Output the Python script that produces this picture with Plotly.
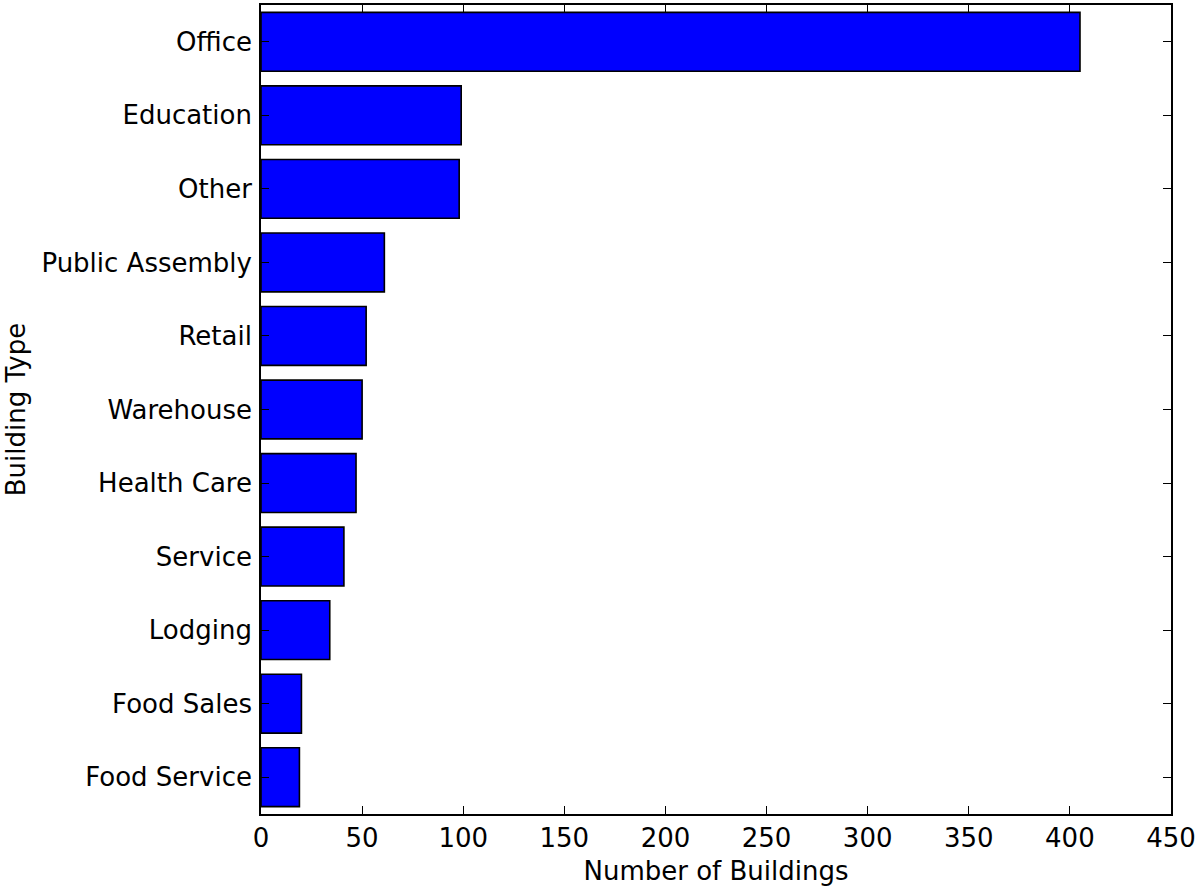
import plotly.graph_objects as go

# Building counts by type, listed from top to bottom
building_types = [
    "Office", "Education", "Other", "Public Assembly", "Retail", "Warehouse",
    "Health Care", "Service", "Lodging", "Food Sales", "Food Service",
]
building_counts = [405, 99, 98, 61, 52, 50, 47, 41, 34, 20, 19]

x_ticks = [0, 50, 100, 150, 200, 250, 300, 350, 400, 450]

FONT = dict(family="DejaVu Sans", size=26, color="black")

fig = go.Figure(
    go.Bar(
        x=building_counts,
        y=building_types,
        orientation="h",
        width=0.8,
        marker=dict(color="#0000FF", line=dict(color="black", width=1.6)),
    )
)

axis_common = dict(
    showgrid=False,
    zeroline=False,
    showline=True,
    linecolor="black",
    linewidth=1.7,
    mirror="ticks",
    ticks="inside",
    ticklen=8,
    tickwidth=1,
    tickcolor="black",
    tickfont=FONT,
    automargin=False,
    ticklabeloverflow="allow",
)

fig.update_xaxes(
    **axis_common,
    range=[0, 450],
    tickvals=x_ticks,
    ticktext=[str(v) for v in x_ticks],
    title=dict(text="Number of Buildings", font=FONT, standoff=10),
)
fig.update_yaxes(
    **axis_common,
    type="category",
    categoryorder="array",
    categoryarray=building_types,
    range=[10.5, -0.5],
    ticklabelstandoff=2,
    title=dict(text="Building Type", font=FONT, standoff=8),
)

fig.update_layout(
    width=1197,
    height=886,
    margin=dict(l=261, r=26, t=5, b=72),
    plot_bgcolor="white",
    paper_bgcolor="white",
    font=FONT,
    showlegend=False,
)

fig.write_html("out.html")
